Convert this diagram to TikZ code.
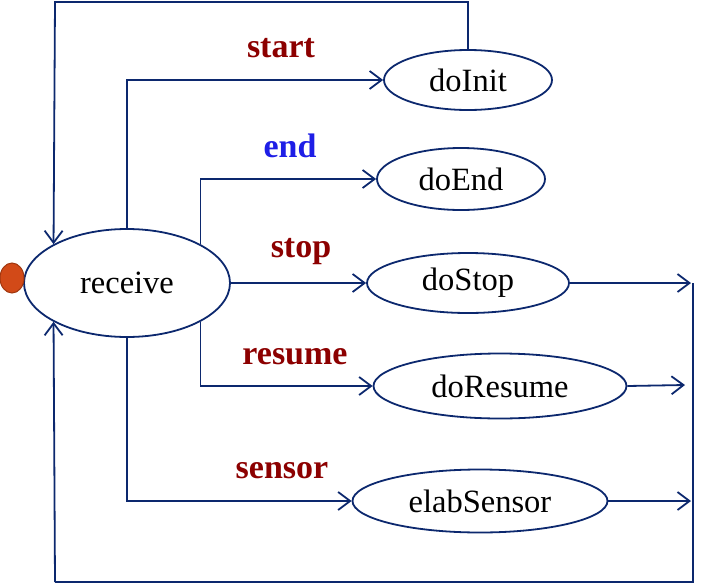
\documentclass[tikz,border=0pt]{standalone}
\usepackage{fontspec}
\setmainfont{Liberation Serif}
\usetikzlibrary{shapes.geometric,arrows.meta}
\definecolor{navy}{RGB}{12,40,110}
\definecolor{lblred}{RGB}{140,0,0}
\definecolor{lblblue}{RGB}{30,30,230}
\definecolor{dotfill}{RGB}{210,74,24}
\definecolor{dotline}{RGB}{160,55,15}
\tikzset{
  state/.style={ellipse,draw=navy,line width=1.8pt,inner sep=0pt,fill=white,font=\fontsize{32.5}{36}\selectfont},
  arr/.style={draw=navy,line width=1.8pt,-{Straight Barb[length=12pt,width=18pt,line width=1.8pt]}},
  plain/.style={draw=navy,line width=1.8pt},
  lbl/.style={font=\fontsize{34}{38}\selectfont\bfseries,text=lblred,inner sep=0pt},
}
\begin{document}
\begin{tikzpicture}[x=1pt,y=-1pt]
\useasboundingbox (0,0) rectangle (705,584);
% nodes
\node[state,minimum width=206pt,minimum height=108pt] (receive) at (127,283) {receive};
\node[ellipse,fill=dotfill,draw=dotline,line width=1pt,minimum width=24pt,minimum height=30pt,inner sep=0pt] (dot) at (12,278) {};
\node[state,minimum width=168pt,minimum height=60pt] (doInit) at (468,80) {doInit};
\node[state,minimum width=168pt,minimum height=62pt] (doEnd) at (461,179) {doEnd};
\node[state,minimum width=202pt,minimum height=60pt] (doStop) at (468,283) {doStop};
\node[state,minimum width=253pt,minimum height=65pt] (doResume) at (500,386) {doResume};
\node[state,minimum width=255pt,minimum height=63pt] (elabSensor) at (480,501) {elabSensor};
% labels
\node[lbl] (lstart) at (281,48) {start};
\node[lbl,text=lblblue] (lend) at (290,146) {end};
\node[lbl] (lstop) at (301,252) {stop};
\node[lbl] (lresume) at (295,357) {resume};
\node[lbl] (lsensor) at (282,471) {sensor};
% free-end coordinates
\coordinate (tl) at (55,2);
\coordinate (rt) at (693,283);
\coordinate (rb) at (693,582);
\coordinate (lb) at (55,582);
\coordinate (sa) at (691,283);
\coordinate (ra) at (685,385);
\coordinate (ea) at (691,501);
% connectors
\draw[arr] (receive.north) |- (doInit.west);
\draw[arr] (receive.north east) |- (doEnd.west);
\draw[arr] (receive.east) -- (doStop.west);
\draw[arr] (receive.south east) |- (doResume.west);
\draw[arr] (receive.south) |- (elabSensor.west);
\draw[arr] (doInit.north) |- (tl) -- (receive.north west);
\draw[arr] (doStop.east) -- (sa);
\draw[arr] (doResume.east) -- (ra);
\draw[arr] (elabSensor.east) -- (ea);
\draw[plain] (rt) -- (rb) -- (lb);
\draw[arr] (lb) -- (receive.south west);
\end{tikzpicture}
\end{document}
